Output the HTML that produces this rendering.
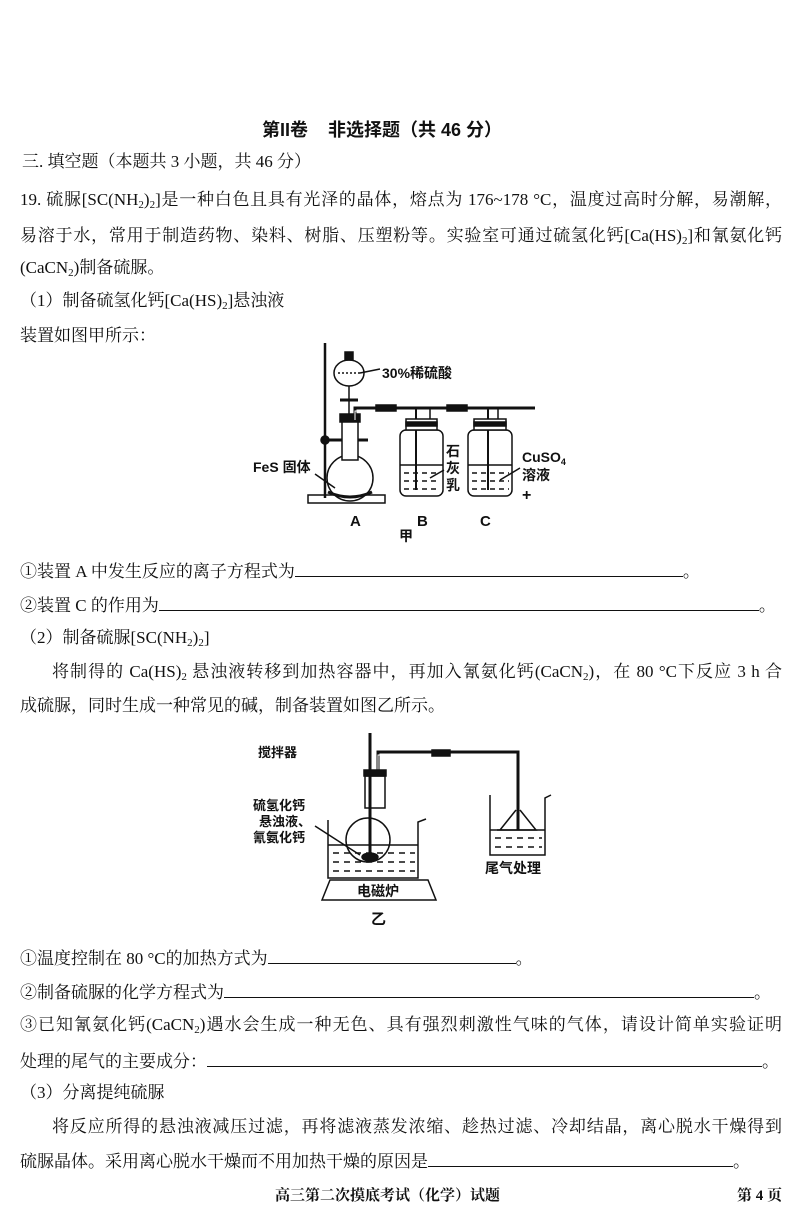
<!DOCTYPE html>
<html><head><meta charset="utf-8"><style>
body{margin:0;background:#fff;}
#p{position:relative;width:800px;height:1205px;overflow:hidden;background:#fff;color:#111;font-family:"Liberation Serif","Noto Serif CJK SC","Noto Sans CJK SC",serif;font-size:17px;}
.l{position:absolute;white-space:nowrap;line-height:20px;}
.j{text-align:justify;text-align-last:justify;white-space:normal;}
.u{display:inline-block;border-bottom:1.5px solid #111;height:16px;vertical-align:baseline;}
sub{font-size:11px;vertical-align:-3px;line-height:0;}
svg text{font-family:"Liberation Sans","Noto Sans CJK SC",sans-serif;font-weight:bold;fill:#111;}
</style></head><body><div id="p">
<div class="l" style="left:262px;top:120px;font-size:18px;font-weight:bold;font-family:'Liberation Sans','Noto Sans CJK SC',sans-serif;">第II卷&nbsp;&nbsp;&nbsp;&nbsp;非选择题（共 46 分）</div>
<div class="l" style="left:22px;top:152px;">三. 填空题（本题共 3 小题，共 46 分）</div>
<div class="l j" style="left:20px;top:190px;width:762px;">19. 硫脲[SC(NH<sub>2</sub>)<sub>2</sub>]是一种白色且具有光泽的晶体，熔点为 176~178 °C，温度过高时分解，易潮解，</div>
<div class="l j" style="left:20px;top:226px;width:762px;">易溶于水，常用于制造药物、染料、树脂、压塑粉等。实验室可通过硫氢化钙[Ca(HS)<sub>2</sub>]和氰氨化钙</div>
<div class="l" style="left:20px;top:258px;">(CaCN<sub>2</sub>)制备硫脲。</div>
<div class="l" style="left:20px;top:291px;">（1）制备硫氢化钙[Ca(HS)<sub>2</sub>]悬浊液</div>
<div class="l" style="left:20px;top:326px;">装置如图甲所示：</div>

<svg style="position:absolute;left:0;top:0" width="800" height="1205" fill="none" stroke="#111" stroke-width="1.5">
<!-- diagram 1 -->
<line x1="325" y1="343" x2="325" y2="498" stroke-width="2.5"/>
<rect x="308" y="495" width="77" height="8"/>
<line x1="325" y1="440" x2="368" y2="440" stroke-width="3"/>
<circle cx="325" cy="440" r="4" fill="#111"/>
<circle cx="350" cy="478" r="23" fill="#fff"/>
<rect x="342" y="420" width="16" height="40" fill="#fff"/>
<rect x="340" y="414" width="20" height="8" fill="#111"/>
<path d="M328 492 q22 10 44 0" stroke-width="3"/>
<ellipse cx="349" cy="373" rx="15" ry="13" fill="#fff"/>
<rect x="345" y="352" width="8" height="8" fill="#111"/>
<line x1="349" y1="386" x2="349" y2="414"/>
<line x1="340" y1="400" x2="358" y2="400" stroke-width="3"/>
<line x1="338" y1="373" x2="360" y2="373" stroke-dasharray="2 2"/>
<path d="M355 420 V408 H535" stroke-width="3"/>
<path d="M355 420 V411 H535" stroke="#fff" stroke-width="1"/>
<rect x="376" y="405" width="20" height="6" fill="#111"/>
<rect x="447" y="405" width="20" height="6" fill="#111"/>
<line x1="416" y1="408" x2="416" y2="490" stroke-width="2"/>
<line x1="488" y1="408" x2="488" y2="490" stroke-width="2"/>
<line x1="430" y1="408" x2="430" y2="425"/>
<line x1="498" y1="408" x2="498" y2="425"/>
<rect x="400" y="430" width="43" height="66" rx="6" fill="none"/>
<rect x="406" y="419" width="31" height="11" fill="#fff"/>
<rect x="406" y="422" width="31" height="4" fill="#111"/>
<rect x="468" y="430" width="44" height="66" rx="6" fill="none"/>
<rect x="474" y="419" width="32" height="11" fill="#fff"/>
<rect x="474" y="422" width="32" height="4" fill="#111"/>
<line x1="400" y1="465" x2="443" y2="465"/>
<line x1="468" y1="465" x2="512" y2="465"/>
<g stroke-dasharray="5 4"><line x1="404" y1="473" x2="440" y2="473"/><line x1="404" y1="481" x2="440" y2="481"/><line x1="404" y1="489" x2="440" y2="489"/>
<line x1="472" y1="473" x2="509" y2="473"/><line x1="472" y1="481" x2="509" y2="481"/><line x1="472" y1="489" x2="509" y2="489"/></g>
<line x1="360" y1="373" x2="380" y2="369"/>
<line x1="315" y1="474" x2="335" y2="488"/>
<line x1="430" y1="478" x2="444" y2="470"/>
<line x1="500" y1="480" x2="520" y2="468"/>
<!-- diagram 2 -->
<line x1="370" y1="733" x2="370" y2="858" stroke-width="3"/>
<path d="M378 772 V752 H518 V830" stroke-width="3"/>
<path d="M378 772 V755 H515 V830" stroke="#fff" stroke-width="1"/>
<rect x="432" y="750" width="18" height="6" fill="#111"/>
<rect x="364" y="770" width="22" height="6" fill="#111"/>
<rect x="365" y="776" width="20" height="32"/>
<circle cx="368" cy="840" r="22" fill="none"/>
<ellipse cx="370" cy="857" rx="8" ry="4" fill="#111"/>
<path d="M328 820 V878 H418 V822 l8 -3"/>
<line x1="328" y1="845" x2="418" y2="845"/>
<g stroke-dasharray="6 5"><line x1="333" y1="853" x2="415" y2="853"/><line x1="333" y1="862" x2="415" y2="862"/><line x1="333" y1="871" x2="415" y2="871"/>
<line x1="495" y1="838" x2="542" y2="838"/><line x1="495" y1="847" x2="542" y2="847"/></g>
<path d="M322 900 L330 880 H428 L436 900 Z"/>
<path d="M490 795 V855 H545 V798 l6 -3"/>
<line x1="490" y1="830" x2="545" y2="830"/>
<path d="M513 830 L497 830 M516 810 L500 830 M520 810 L536 830 L500 830" />
<line x1="315" y1="826" x2="360" y2="855"/>
<text x="258" y="757" font-size="13" stroke="none">搅拌器</text>
<text x="253" y="810" font-size="13" stroke="none">硫氢化钙</text>
<text x="259" y="826" font-size="13" stroke="none">悬浊液、</text>
<text x="253" y="842" font-size="13" stroke="none">氰氨化钙</text>
<text x="485" y="873" font-size="14" stroke="none">尾气处理</text>
<text x="357" y="896" font-size="14" stroke="none">电磁炉</text>
<text x="371" y="924" font-size="15" stroke="none">乙</text>
<text x="382" y="378" font-size="14" stroke="none">30%稀硫酸</text>
<text x="253" y="472" font-size="14" stroke="none">FeS 固体</text>
<text x="446" y="456" font-size="14" stroke="none">石</text>
<text x="446" y="473" font-size="14" stroke="none">灰</text>
<text x="446" y="490" font-size="14" stroke="none">乳</text>
<text x="522" y="462" font-size="14" stroke="none">CuSO<tspan font-size="9" dy="3">4</tspan></text>
<text x="522" y="480" font-size="14" stroke="none">溶液</text>
<text x="522" y="500" font-size="16" stroke="none">+</text>
<text x="350" y="526" font-size="15" stroke="none">A</text>
<text x="417" y="526" font-size="15" stroke="none">B</text>
<text x="480" y="526" font-size="15" stroke="none">C</text>
<text x="399" y="541" font-size="14" stroke="none">甲</text>
</svg>

<div class="l" style="left:20px;top:560px;">①装置 A 中发生反应的离子方程式为<span class="u" style="width:388px"></span>。</div>
<div class="l" style="left:20px;top:594px;">②装置 C 的作用为<span class="u" style="width:600px"></span>。</div>
<div class="l" style="left:20px;top:628px;">（2）制备硫脲[SC(NH<sub>2</sub>)<sub>2</sub>]</div>
<div class="l j" style="left:52px;top:662px;width:730px;">将制得的 Ca(HS)<sub>2</sub> 悬浊液转移到加热容器中，再加入氰氨化钙(CaCN<sub>2</sub>)，在 80 °C下反应 3 h 合</div>
<div class="l" style="left:20px;top:696px;">成硫脲，同时生成一种常见的碱，制备装置如图乙所示。</div>
<div class="l" style="left:20px;top:947px;">①温度控制在 80 °C的加热方式为<span class="u" style="width:248px"></span>。</div>
<div class="l" style="left:20px;top:981px;">②制备硫脲的化学方程式为<span class="u" style="width:530px"></span>。</div>
<div class="l j" style="left:20px;top:1015px;width:762px;">③已知氰氨化钙(CaCN<sub>2</sub>)遇水会生成一种无色、具有强烈刺激性气味的气体，请设计简单实验证明</div>
<div class="l" style="left:20px;top:1050px;">处理的尾气的主要成分：<span class="u" style="width:555px"></span>。</div>
<div class="l" style="left:20px;top:1083px;">（3）分离提纯硫脲</div>
<div class="l j" style="left:52px;top:1117px;width:730px;">将反应所得的悬浊液减压过滤，再将滤液蒸发浓缩、趁热过滤、冷却结晶，离心脱水干燥得到</div>
<div class="l" style="left:20px;top:1150px;">硫脲晶体。采用离心脱水干燥而不用加热干燥的原因是<span class="u" style="width:305px"></span>。</div>
<div class="l" style="left:275px;top:1186px;font-size:15px;font-weight:bold;">高三第二次摸底考试（化学）试题</div>
<div class="l" style="left:737px;top:1186px;font-size:15px;font-weight:bold;">第 4 页</div>
</div></body></html>
